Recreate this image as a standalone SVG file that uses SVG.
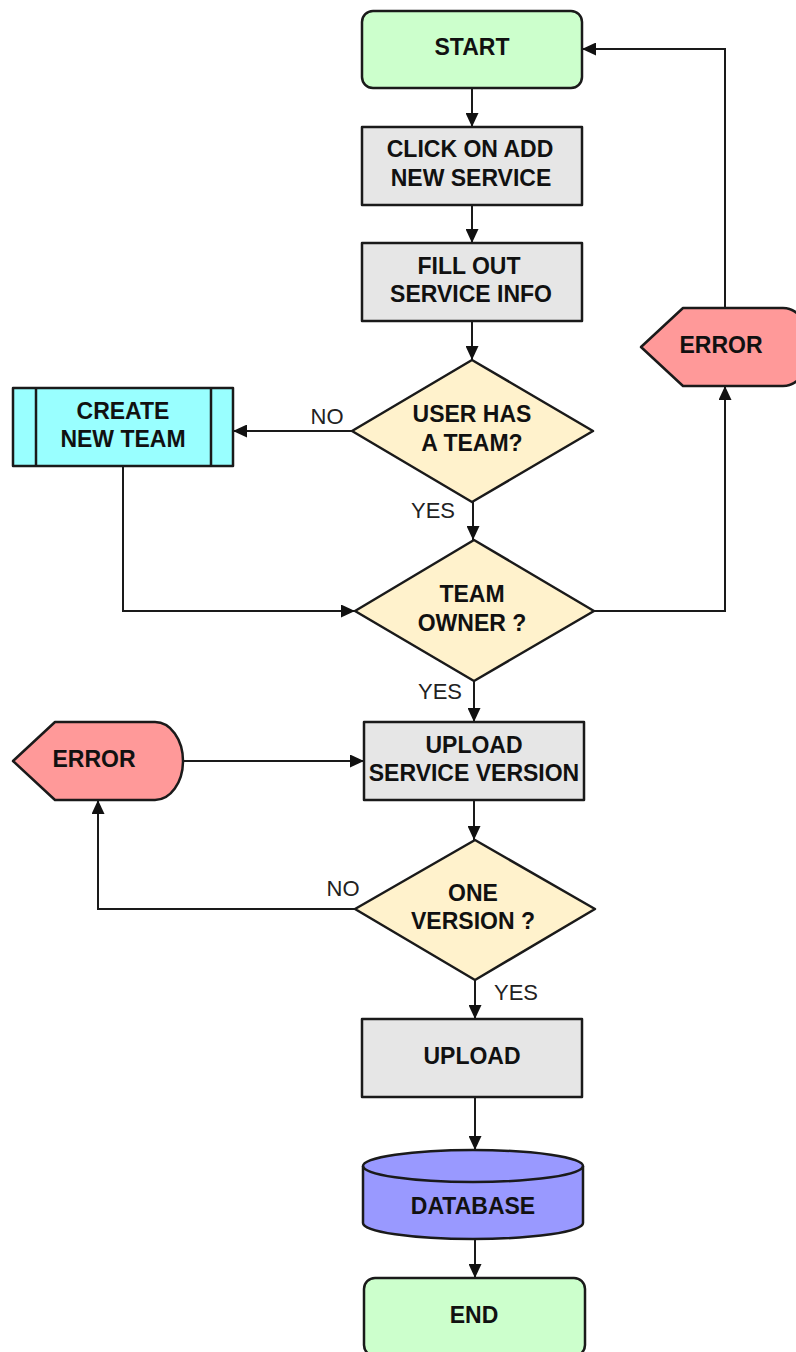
<svg xmlns="http://www.w3.org/2000/svg" width="796" height="1352" viewBox="0 0 796 1352">
  <style>
    .shape { stroke: #1a1a1a; stroke-width: 2.5; stroke-linejoin: round; }
    .term { fill: #ccffcc; }
    .proc { fill: #e6e6e6; }
    .dec { fill: #fff2cc; }
    .sub { fill: #99ffff; }
    .err { fill: #ff9999; }
    .db { fill: #9999ff; }
    .t { font-family: "Liberation Sans", Arial, sans-serif; font-weight: bold; font-size: 23px; fill: #111; text-anchor: middle; }
    .lbl { font-family: "Liberation Sans", Arial, sans-serif; font-size: 22px; fill: #222; text-anchor: middle; }
    .edge { fill: none; stroke: #1a1a1a; stroke-width: 2; marker-end: url(#arrow); }
  </style>
  <defs>
    <marker id="arrow" markerUnits="userSpaceOnUse" markerWidth="14" markerHeight="13" refX="14" refY="6.5" orient="auto">
      <path d="M0,0 L14,6.5 L0,13 Z" fill="#111"/>
    </marker>
  </defs>
  <rect width="796" height="1352" fill="#ffffff"/>

  <g id="connectors">
    <path class="edge" d="M472,88 L472,127"/>
    <path class="edge" d="M472,205 L472,243"/>
    <path class="edge" d="M472,321 L472,360"/>
    <path class="edge" d="M352,431 L233,431"/>
    <path class="edge" d="M473,502 L473,540"/>
    <path class="edge" d="M123,467 L123,611 L355,611"/>
    <path class="edge" d="M594,611 L725,611 L725,386"/>
    <path class="edge" d="M725,308 L725,49 L582,49"/>
    <path class="edge" d="M474,681 L474,722"/>
    <path class="edge" d="M183,761 L364,761"/>
    <path class="edge" d="M474,800 L474,840"/>
    <path class="edge" d="M355,909 L98,909 L98,800"/>
    <path class="edge" d="M475,980 L475,1019"/>
    <path class="edge" d="M475,1097 L475,1150"/>
    <path class="edge" d="M475,1239 L475,1278"/>
    <text class="lbl" x="327" y="424">NO</text>
    <text class="lbl" x="433" y="518">YES</text>
    <text class="lbl" x="440" y="699">YES</text>
    <text class="lbl" x="343" y="896">NO</text>
    <text class="lbl" x="516" y="1000">YES</text>
  </g>

  <g id="start">
    <rect class="shape term" x="362" y="11" width="220" height="77" rx="11"/>
    <text class="t" x="472" y="55">START</text>
  </g>

  <g id="click-add-service">
    <rect class="shape proc" x="362" y="127" width="220" height="78"/>
    <text class="t" x="470" y="157">CLICK ON ADD</text>
    <text class="t" x="471" y="186">NEW SERVICE</text>
  </g>

  <g id="fill-service-info">
    <rect class="shape proc" x="362" y="243" width="220" height="78"/>
    <text class="t" x="469" y="274">FILL OUT</text>
    <text class="t" x="471" y="302">SERVICE INFO</text>
  </g>

  <g id="has-team">
    <path class="shape dec" d="M472,360 L593,431 L472,502 L352,431 Z"/>
    <text class="t" x="472" y="422">USER HAS</text>
    <text class="t" x="472" y="451">A TEAM?</text>
  </g>

  <g id="create-team">
    <rect class="shape sub" x="13" y="388" width="220" height="78"/>
    <line class="shape" x1="36" y1="388" x2="36" y2="466"/>
    <line class="shape" x1="211" y1="388" x2="211" y2="466"/>
    <text class="t" x="123" y="419">CREATE</text>
    <text class="t" x="123" y="447">NEW TEAM</text>
  </g>

  <g id="team-owner">
    <path class="shape dec" d="M474,540 L594,611 L474,681 L355,611 Z"/>
    <text class="t" x="472" y="602">TEAM</text>
    <text class="t" x="472" y="631">OWNER ?</text>
  </g>

  <g id="error-owner">
    <path class="shape err" d="M641,347 L683,308 L783,308 A28,39 0 0 1 783,386 L683,386 Z"/>
    <text class="t" x="721" y="353">ERROR</text>
  </g>

  <g id="upload-service-version">
    <rect class="shape proc" x="364" y="722" width="220" height="78"/>
    <text class="t" x="474" y="753">UPLOAD</text>
    <text class="t" x="474" y="781">SERVICE VERSION</text>
  </g>

  <g id="error-version">
    <path class="shape err" d="M13,761 L55,722 L155,722 A28,39 0 0 1 155,800 L55,800 Z"/>
    <text class="t" x="94" y="767">ERROR</text>
  </g>

  <g id="one-version">
    <path class="shape dec" d="M475,840 L595,909 L475,980 L355,909 Z"/>
    <text class="t" x="473" y="901">ONE</text>
    <text class="t" x="473" y="929">VERSION ?</text>
  </g>

  <g id="upload">
    <rect class="shape proc" x="362" y="1019" width="220" height="78"/>
    <text class="t" x="472" y="1064">UPLOAD</text>
  </g>

  <g id="database">
    <path class="shape db" d="M363,1166 L363,1223 A110,16 0 0 0 583,1223 L583,1166 A110,16 0 0 0 363,1166 Z"/>
    <path class="shape" fill="none" d="M363,1166 A110,16 0 0 0 583,1166"/>
    <text class="t" x="473" y="1214">DATABASE</text>
  </g>

  <g id="end">
    <rect class="shape term" x="364" y="1278" width="221" height="78" rx="11"/>
    <text class="t" x="474" y="1323">END</text>
  </g>
</svg>
